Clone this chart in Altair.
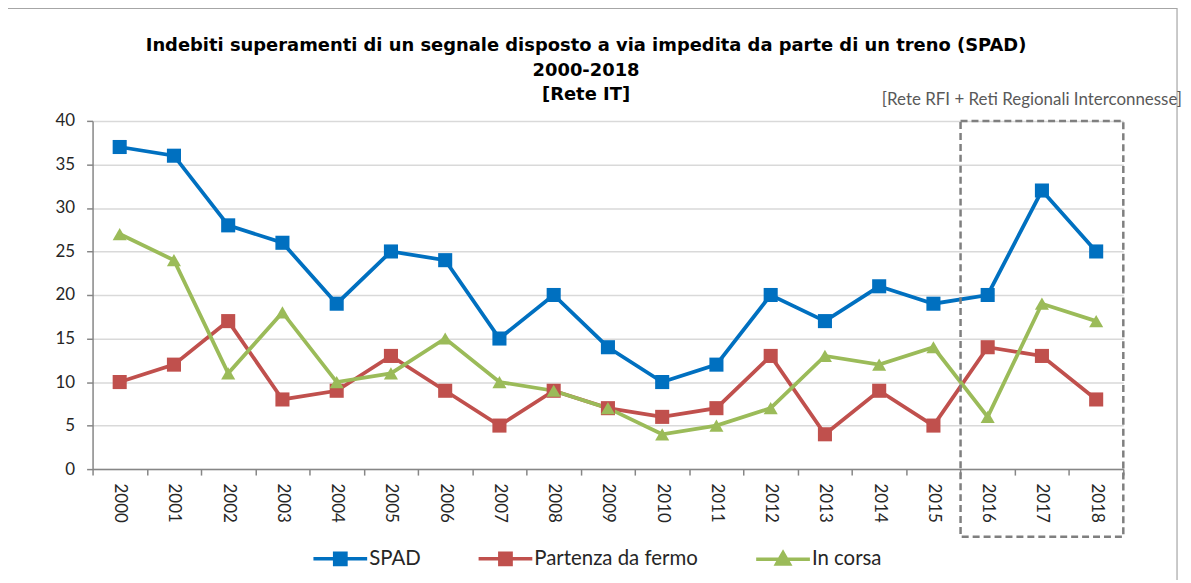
import altair as alt
import pandas as pd

anni = ["2000", "2001", "2002", "2003", "2004", "2005", "2006", "2007", "2008", "2009",
        "2010", "2011", "2012", "2013", "2014", "2015", "2016", "2017", "2018"]
spad = [37, 36, 28, 26, 19, 25, 24, 15, 20, 14, 10, 12, 20, 17, 21, 19, 20, 32, 25]
fermo = [10, 12, 17, 8, 9, 13, 9, 5, 9, 7, 6, 7, 13, 4, 9, 5, 14, 13, 8]
corsa = [27, 24, 11, 18, 10, 11, 15, 10, 9, 7, 4, 5, 7, 13, 12, 14, 6, 19, 17]
serie = ["SPAD", "Partenza da fermo", "In corsa"]
colori = ["#0070C0", "#C0504D", "#9BBB59"]
forme = ["square", "square", "triangle-up"]
dimensioni = [200, 200, 270]
y_ticks = [0, 5, 10, 15, 20, 25, 30, 35, 40]
titolo = ["Indebiti superamenti di un segnale disposto a via impedita da parte di un treno (SPAD)",
          "2000-2018", "[Rete IT]"]
nota = "[Rete RFI + Reti Regionali Interconnesse]"

# legend symbols: line segment + marker (custom SVG paths)
leg_paths = [
    "M-1,0H1M-0.21,-0.21H0.21V0.21H-0.21Z",
    "M-1,0H1M-0.21,-0.21H0.21V0.21H-0.21Z",
    "M-1,0H1M-0.24,0.17L0,-0.25L0.24,0.17Z",
]

rows = []
for nome, vals in zip(serie, [spad, fermo, corsa]):
    for a, v in zip(anni, vals):
        rows.append({"anno": a, "valore": v, "serie": nome})
df = pd.DataFrame(rows)

W, H = 1036, 350
FONT = "Lato"
GRAY = "#868686"

x_enc = alt.X("anno:O", sort=anni,
              scale=alt.Scale(type="band", paddingInner=0, paddingOuter=0, domain=anni),
              axis=alt.Axis(title=None, labelAngle=90, labelAlign="left", labelBaseline="middle",
                            tickBand="extent", tickSize=6, labelPadding=8, grid=False,
                            domainColor=GRAY, tickColor=GRAY, domainWidth=1.5,
                            tickWidth=1.5))
y_enc = alt.Y("valore:Q", scale=alt.Scale(domain=[0, 40], nice=False),
              axis=alt.Axis(title=None, values=y_ticks, grid=True, gridColor="#D9D9D9",
                            gridWidth=1.5, tickSize=6, labelPadding=12,
                            domainColor=GRAY, tickColor=GRAY, domainWidth=1.5,
                            tickWidth=1.5))

col_scale = alt.Scale(domain=serie, range=colori)

base = alt.Chart(df)

lines = base.mark_line(strokeWidth=3.8).encode(
    x=x_enc, y=y_enc,
    color=alt.Color("serie:N", scale=col_scale, legend=None, sort=serie),
)

points = base.mark_point(filled=True, opacity=1).encode(
    x=x_enc, y=y_enc,
    color=alt.Color("serie:N", scale=col_scale, legend=None, sort=serie),
    shape=alt.Shape("serie:N", scale=alt.Scale(domain=serie, range=forme), legend=None),
    size=alt.Size("serie:N", scale=alt.Scale(domain=serie, range=dimensioni), legend=None),
)

box_df = pd.DataFrame({"k": [1]})
box = alt.Chart(box_df).mark_rect(filled=False, color="#7F7F7F", strokeWidth=2.5,
                                  strokeDash=[7, 4]).encode(
    x=alt.XDatum("2016", type="ordinal", bandPosition=0),
    x2=alt.value(W),
    y=alt.YDatum(40, type="quantitative"),
    y2=alt.value(H + 68),
)

# outer chart frame
frame = alt.Chart(box_df).mark_rect(filled=False, color="#A6A6A6", strokeWidth=1.2).encode(
    x=alt.value(-86), x2=alt.value(W + 54), y=alt.value(-113), y2=alt.value(H + 140),
)

note = alt.Chart(pd.DataFrame({"t": [nota]})).mark_text(
    align="right", baseline="bottom", dx=59, dy=-12, font=FONT, fontSize=17, color="#595959"
).encode(
    x=alt.XDatum("2018", type="ordinal", bandPosition=1),
    y=alt.YDatum(40, type="quantitative"),
    text="t:N",
)

leg = alt.Legend(title=None, orient="none", legendX=220, legendY=411, direction="horizontal",
                 symbolSize=2916, symbolStrokeWidth=3.5, labelFont=FONT, labelFontSize=20.5,
                 labelColor="#262626", labelOffset=0, columnPadding=51, labelLimit=400)

legend_layer = base.transform_filter("false").mark_point(
    filled=True, opacity=1, size=2916, strokeWidth=3.5
).encode(
    x=x_enc, y=y_enc,
    color=alt.Color("serie:N", scale=alt.Scale(domain=serie, range=colori), legend=leg),
    stroke=alt.Stroke("serie:N", scale=alt.Scale(domain=serie, range=colori), legend=leg),
    shape=alt.Shape("serie:N", scale=alt.Scale(domain=serie, range=leg_paths), legend=leg),
)

chart = alt.layer(frame, lines, points, box, note, legend_layer).resolve_scale(
    color="independent", shape="independent", stroke="independent", size="independent"
).properties(
    width=W, height=H,
    title=alt.TitleParams(text=titolo, font="DejaVu Sans", fontSize=18, fontWeight="bold",
                          anchor="middle", offset=-97, dx=-22, lineHeight=25, color="#000000"),
    autosize=alt.AutoSizeParams(type="none"),
    padding={"left": 85, "top": 112, "right": 60, "bottom": 110},
).configure_view(stroke=None).configure_axis(
    labelFont=FONT, labelFontSize=17, labelColor="#262626"
)

chart.save("out.html", embed_options={"renderer": "svg", "actions": False})
